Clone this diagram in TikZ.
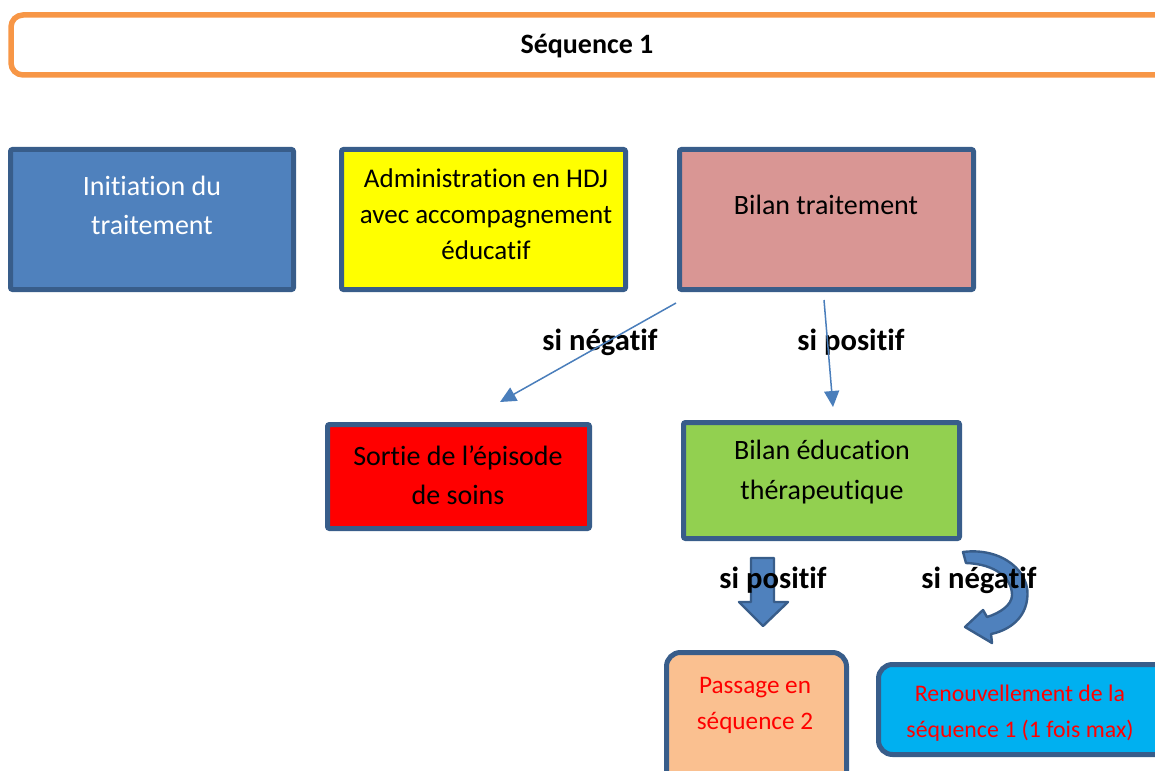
\documentclass[tikz,border=0pt]{standalone}
\usepackage{fontspec}
\setmainfont{Carlito}[Ligatures={NoCommon,NoRequired,NoContextual}]
\usetikzlibrary{arrows.meta}
\definecolor{boxborder}{HTML}{385D8A}
\definecolor{orangeb}{HTML}{F79646}
\definecolor{initfill}{HTML}{4F81BD}
\definecolor{adminfill}{HTML}{FFFF00}
\definecolor{bilanfill}{HTML}{D99694}
\definecolor{sortiefill}{HTML}{FF0000}
\definecolor{educfill}{HTML}{92D050}
\definecolor{passfill}{HTML}{FAC090}
\definecolor{renfill}{HTML}{00B0F0}
\definecolor{thinarrow}{HTML}{4A7EBB}
\definecolor{redtext}{HTML}{FF0000}
\begin{document}
\begin{tikzpicture}[x=0.5pt,y=-0.5pt,
  box/.style={draw=boxborder, line width=2.5pt, rounded corners=1pt, inner sep=0pt, anchor=center},
  rbox/.style={box, rounded corners=7pt},
  txt/.style={align=center, inner sep=0pt, font=\fontsize{14}{19.5}\selectfont},
  smalltxt/.style={align=center, inner sep=0pt, text=redtext, font=\fontsize{12}{18}\selectfont},
  cond/.style={inner sep=0pt, font=\fontsize{15.3}{18}\selectfont\bfseries},
  thin/.style={draw=thinarrow, line width=0.75pt, -{Triangle[length=8pt,width=7.5pt]}},
  blockarrow/.style={fill=initfill, draw=boxborder, line width=1.2pt, line join=round}
]
\useasboundingbox (0,0) rectangle (1155,770);

% title
\node[draw=orangeb, line width=2.75pt, rounded corners=6pt, minimum width=583pt, minimum height=30pt, inner sep=0pt] (title) at (594,45) {};
\node[inner sep=0pt, font=\fontsize{14}{17}\selectfont\bfseries] (titletext) at (587,46) {Séquence 1};

% boxes
\node[box, fill=initfill, minimum width=141.5pt, minimum height=70pt] (init) at (152,219.5) {};
\node[box, fill=adminfill, minimum width=142pt, minimum height=70pt] (admin) at (483.5,219.5) {};
\node[box, fill=bilanfill, minimum width=147pt, minimum height=70pt] (bilan) at (826.5,219.5) {};
\node[box, fill=sortiefill, minimum width=131pt, minimum height=52pt] (sortie) at (458.5,476.5) {};
\node[box, fill=educfill, minimum width=138pt, minimum height=58pt] (educ) at (821.5,480.5) {};
\node[rbox, fill=passfill, minimum width=90pt, minimum height=67.5pt] (passage) at (756.5,720) {};
\node[rbox, fill=renfill, minimum width=147pt, minimum height=45pt] (renouv) at (1025.5,709.5) {};

% box texts
\node[txt, text=white] (init-t) at (152,205) {Initiation du\\traitement};
\node[txt, font=\fontsize{13.5}{18}\selectfont] (admin-t) at (486,214) {Administration en HDJ\\avec accompagnement\\éducatif};
\node[txt] (bilan-t) at (826,205) {Bilan traitement};
\node[txt] (sortie-t) at (458,475) {Sortie de l’épisode\\de soins};
\node[txt, font=\fontsize{14}{20}\selectfont] (educ-t) at (822,472) {Bilan éducation\\thérapeutique};
\node[smalltxt, font=\fontsize{12.6}{18}\selectfont] (passage-t) at (755,705) {Passage en\\séquence 2};
\node[smalltxt, font=\fontsize{11.9}{18}\selectfont] (renouv-t) at (1020,713) {Renouvellement de la\\séquence 1 (1 fois max)};

% block arrows
\draw[blockarrow] (751,558) -- (774,558) -- (774,602) -- (788,602) -- (763,626) -- (739,602) -- (751,602) -- cycle;
\draw[blockarrow] (963,552) .. controls (1002,547) and (1032,572) .. (1027,600)
  .. controls (1024,621) and (1006,631) .. (991,634)
  -- (992,643) -- (965,627) -- (983,610) -- (987,617)
  .. controls (1000,613) and (1012,605) .. (1012,595)
  .. controls (1012,578) and (995,564) .. (966,563) -- cycle;

% condition labels
\node[cond] (c1) at (600,342) {si négatif};
\node[cond] (c2) at (851,342) {si positif};
\node[cond] (c3) at (773,580) {si positif};
\node[cond] (c4) at (979,580) {si négatif};

% thin arrows
\coordinate (neg-s) at (676,303);
\coordinate (neg-e) at (500,402);
\coordinate (pos-s) at (824,300);
\coordinate (pos-e) at (833,407);
\draw[thin] (neg-s) -- (neg-e);
\draw[thin] (pos-s) -- (pos-e);
\end{tikzpicture}
\end{document}
